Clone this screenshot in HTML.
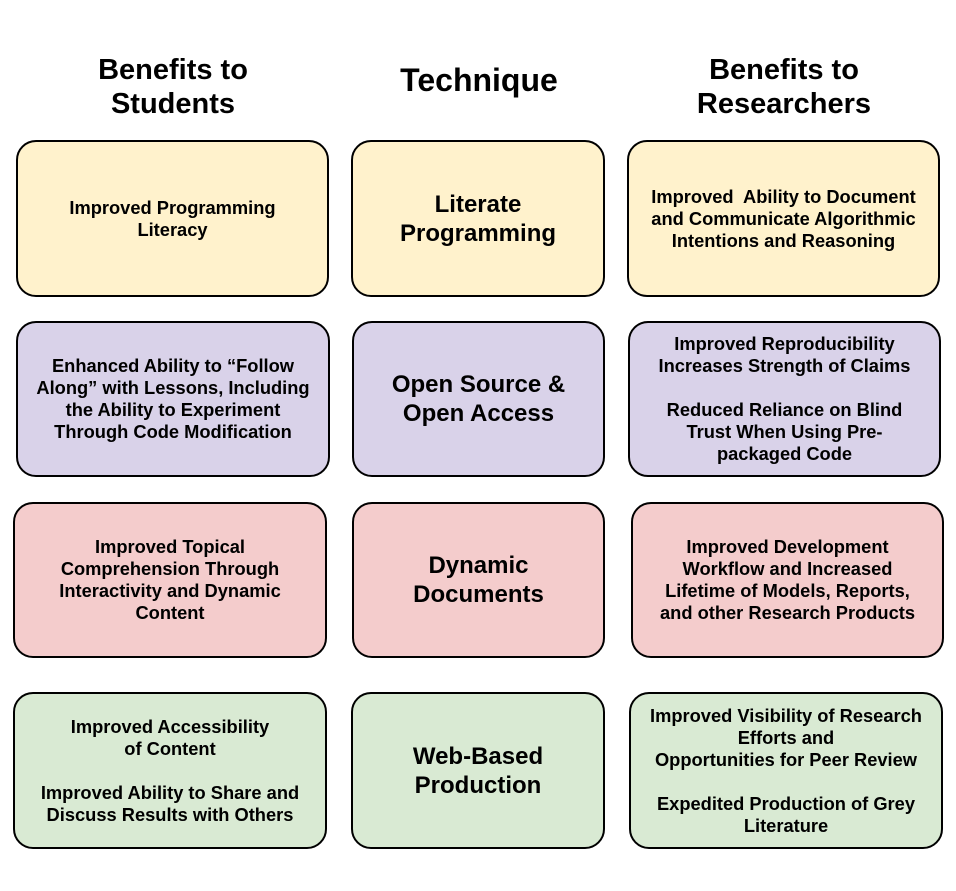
<!DOCTYPE html>
<html><head><meta charset="utf-8"><style>
body{margin:0;width:956px;height:891px;background:#fff;position:relative;font-family:"Liberation Sans",Arial,sans-serif;font-weight:bold;color:#000;overflow:hidden}
.h{position:absolute;text-align:center;font-size:29px;line-height:34px;white-space:nowrap}
.b{position:absolute;box-sizing:border-box;border:2px solid #000;border-radius:20px;display:flex;align-items:center;justify-content:center;text-align:center;font-size:18.3px;line-height:22px;padding:0 4px;white-space:nowrap}
.m{font-size:24px;line-height:29px}
.y{background:#fff2cc}.p{background:#d9d2e9}.r{background:#f4cccc}.g{background:#d9ead3}
</style></head><body>
<div class="h" style="left:43px;width:260px;top:53px">Benefits to<br>Students</div>
<div class="h" style="left:349px;width:260px;top:63px;font-size:32px">Technique</div>
<div class="h" style="left:654px;width:260px;top:53px">Benefits to<br>Researchers</div>

<div class="b y" style="left:16px;top:140px;width:313px;height:157px">Improved Programming<br>Literacy</div>
<div class="b y m" style="left:351px;top:140px;width:254px;height:157px">Literate<br>Programming</div>
<div class="b y" style="left:627px;top:140px;width:313px;height:157px">Improved&nbsp; Ability to Document<br>and Communicate Algorithmic<br>Intentions and Reasoning</div>

<div class="b p" style="left:16px;top:321px;width:314px;height:156px">Enhanced Ability to “Follow<br>Along” with Lessons, Including<br>the Ability to Experiment<br>Through Code Modification</div>
<div class="b p m" style="left:352px;top:321px;width:253px;height:156px">Open Source &amp;<br>Open Access</div>
<div class="b p" style="left:628px;top:321px;width:313px;height:156px">Improved Reproducibility<br>Increases Strength of Claims<br><br>Reduced Reliance on Blind<br>Trust When Using Pre-<br>packaged Code</div>

<div class="b r" style="left:13px;top:502px;width:314px;height:156px">Improved Topical<br>Comprehension Through<br>Interactivity and Dynamic<br>Content</div>
<div class="b r m" style="left:352px;top:502px;width:253px;height:156px">Dynamic<br>Documents</div>
<div class="b r" style="left:631px;top:502px;width:313px;height:156px">Improved Development<br>Workflow and Increased<br>Lifetime of Models, Reports,<br>and other Research Products</div>

<div class="b g" style="left:13px;top:692px;width:314px;height:157px">Improved Accessibility<br>of Content<br><br>Improved Ability to Share and<br>Discuss Results with Others</div>
<div class="b g m" style="left:351px;top:692px;width:254px;height:157px">Web-Based<br>Production</div>
<div class="b g" style="left:629px;top:692px;width:314px;height:157px">Improved Visibility of Research<br>Efforts and<br>Opportunities for Peer Review<br><br>Expedited Production of Grey<br>Literature</div>
</body></html>
